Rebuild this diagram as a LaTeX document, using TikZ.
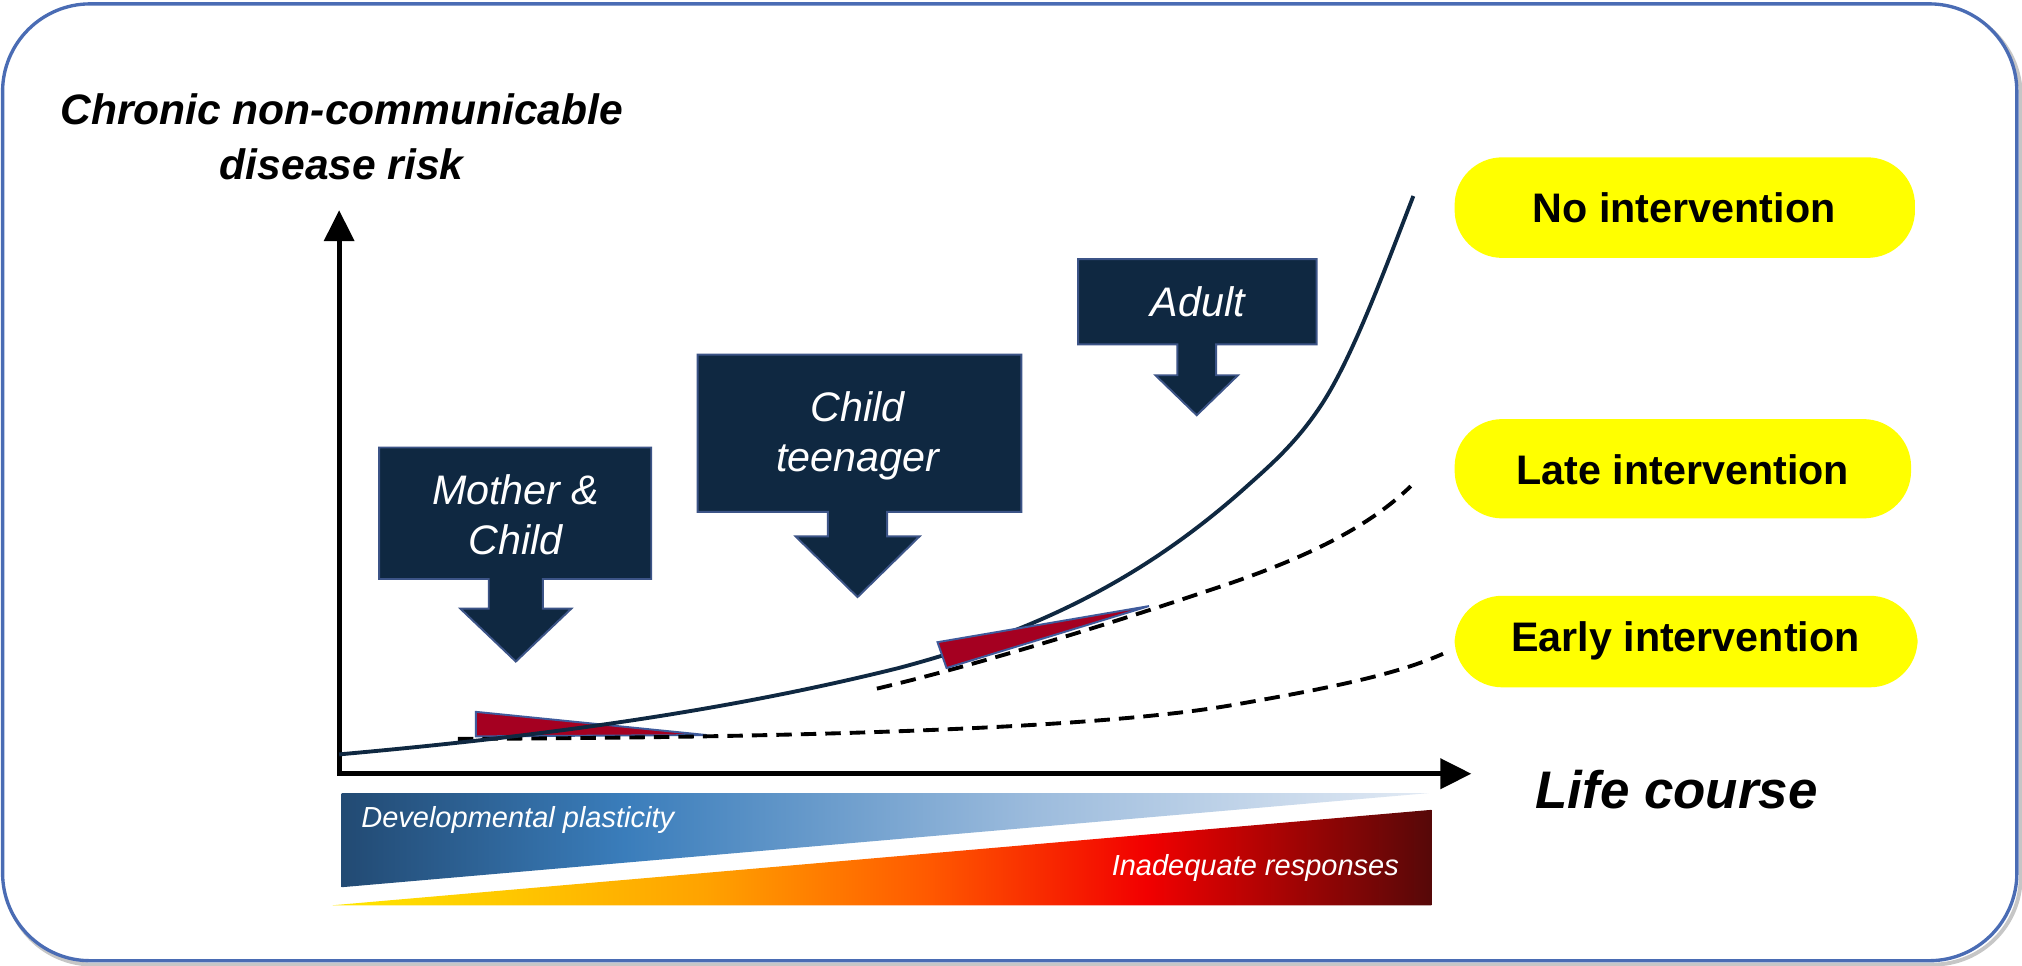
\documentclass[tikz,border=0pt]{standalone}
\usepackage{fontspec}
\setmainfont{Liberation Sans}
\usetikzlibrary{arrows.meta}
\definecolor{navy}{HTML}{0F2841}
\definecolor{calloutborder}{HTML}{3C5487}
\definecolor{framecol}{HTML}{4A6CB4}
\definecolor{redtri}{HTML}{A50021}
\definecolor{redborder}{HTML}{3F5B9C}
\definecolor{pillyellow}{HTML}{FFFF00}
\definecolor{bA}{HTML}{224A73}
\definecolor{bB}{HTML}{3A7DBB}
\definecolor{bC}{HTML}{9DBCDD}
\definecolor{bD}{HTML}{E2EAF4}
\definecolor{oA}{HTML}{FFE800}
\definecolor{oB}{HTML}{FFA200}
\definecolor{oC}{HTML}{FF5A00}
\definecolor{oD}{HTML}{F20000}
\definecolor{oE}{HTML}{560808}
% the path spans 25bp..75bp of the shading
\pgfdeclarehorizontalshading{blueband}{100bp}{color(0bp)=(bA); color(25bp)=(bA); color(38bp)=(bB); color(57bp)=(bC); color(75bp)=(bD); color(100bp)=(bD)}
\pgfdeclarehorizontalshading{orangeband}{100bp}{color(0bp)=(oA); color(25bp)=(oA); color(42bp)=(oB); color(52bp)=(oC); color(62bp)=(oD); color(75bp)=(oE); color(100bp)=(oE)}
\tikzset{
  axislbl/.style={font=\fontsize{33}{43}\selectfont\bfseries\itshape, align=center, inner sep=0pt},
  calloutshape/.style={fill=navy, draw=calloutborder, line width=1.5pt, line join=miter},
  callouttext/.style={font=\fontsize{32}{39}\selectfont\itshape, text=white, align=center, inner sep=0pt},
  pill/.style={fill=pillyellow, rounded corners=37pt},
  pilltext/.style={font=\fontsize{32}{38}\selectfont\bfseries, inner sep=0pt},
  bandtext/.style={font=\fontsize{22.5}{26}\selectfont\itshape, text=white, inner sep=0pt},
  riskcurve/.style={draw=navy, line width=3pt},
  dashcurve/.style={draw=black, line width=3pt, dash pattern=on 12pt off 7pt},
  wedge/.style={fill=redtri, draw=redborder, line width=1.5pt, line join=miter},
  axisline/.style={line width=3.8pt, line join=miter, {Triangle[width=23pt,length=24pt]}-{Triangle[width=23pt,length=24pt]}}
}
\begin{document}
\begin{tikzpicture}[x=1pt,y=-1pt]
\useasboundingbox (0,0) rectangle (1568,749);
% frame with faint shadow
\draw[gray!45, line width=3pt, rounded corners=68pt] (4,6) rectangle (1567,748);
\draw[framecol, line width=2.6pt, fill=white, rounded corners=68pt] (2,3) rectangle (1564,745);

% gradient bands
\shade[shading=blueband] (265,615) -- (1108,615) -- (265,688) -- cycle;
\shade[shading=orangeband] (258,702) -- (1110,702) -- (1110,628) -- cycle;
\node[bandtext, anchor=west] (dev) at (280,636) {Developmental plasticity};
\node[bandtext, anchor=east] (inad) at (1085,673) {Inadequate responses};

% axes
\coordinate (ytip) at (263,163);
\coordinate (origin) at (263,600);
\coordinate (xtip) at (1141,600);
\draw[axisline] (ytip) -- (origin) -- (xtip);
\node[axislbl] (ylabel) at (265,106) {Chronic non-communicable\\disease risk};
\node[axislbl, font=\fontsize{41}{48}\selectfont\bfseries\itshape] (xlabel) at (1300,612) {Life course};

% first wedge (below the curves)
\draw[wedge] (369,552) -- (548,570) -- (369,571) -- cycle;

% curves
\draw[dashcurve] (355,573) .. controls (600,572) and (850,566) .. (960,546) .. controls (1040,532) and (1085,522) .. (1119,507);
\draw[dashcurve] (680,534) .. controls (760,515) and (860,484) .. (940,457) .. controls (1010,434) and (1060,410) .. (1094,377);
\draw[riskcurve] (263,585) .. controls (408,572) and (552,554) .. (697,518)
  .. controls (787,494) and (877,458) .. (967,377)
  .. controls (986,360) and (1005,343.5) .. (1024,315)
  .. controls (1048,279) and (1072,214) .. (1096,152);

% second wedge
\draw[wedge] (727,498) -- (891,470) -- (734,518) -- cycle;

% callouts
\draw[calloutshape] (294,347) -- (505,347) -- (505,449) -- (421,449) -- (421,472) -- (443,472) -- (400,513) -- (357,472) -- (379,472) -- (379,449) -- (294,449) -- cycle;
\node[callouttext] (mother) at (400,399) {Mother \&\\Child};
\draw[calloutshape] (541,275) -- (792,275) -- (792,397) -- (688,397) -- (688,416) -- (713,416) -- (665,463) -- (617,416) -- (642,416) -- (642,397) -- (541,397) -- cycle;
\node[callouttext] (teen) at (665,338) {Child\\teenager};
\draw[calloutshape] (836,201) -- (1021,201) -- (1021,267) -- (943,267) -- (943,291) -- (960,291) -- (928,322) -- (896,291) -- (913,291) -- (913,267) -- (836,267) -- cycle;
\node[callouttext] (adult) at (929,234) {Adult};

% intervention labels
\fill[pill] (1128,122) rectangle (1485,200);
\node[pilltext] (noint) at (1306,161) {No intervention};
\fill[pill] (1128,325) rectangle (1482,402);
\node[pilltext] (lateint) at (1305,364) {Late intervention};
\fill[pill] (1128,462) rectangle (1487,533);
\node[pilltext] (earlyint) at (1307,497) {Early intervention};
\end{tikzpicture}
\end{document}
